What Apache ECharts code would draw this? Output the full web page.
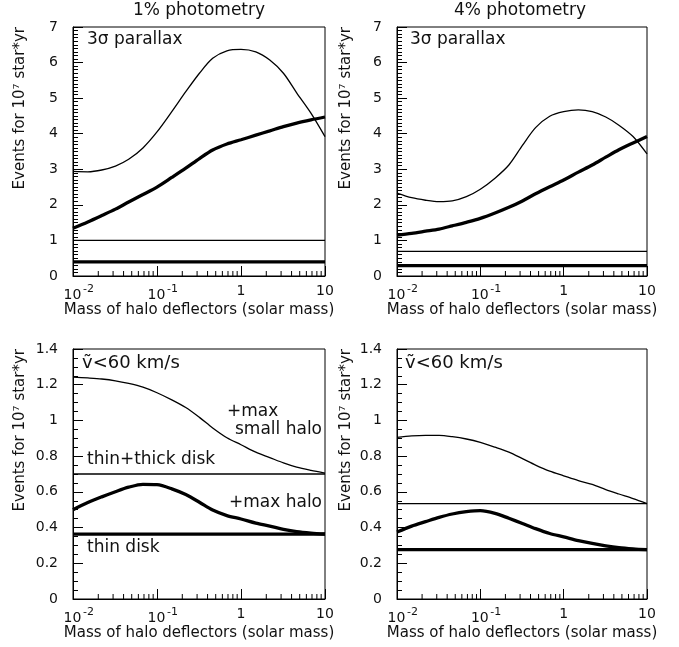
<!DOCTYPE html>
<html>
<head>
<meta charset="utf-8">
<script src="https://cdn.jsdelivr.net/npm/echarts@6/dist/echarts.min.js"></script>
<style>
  html, body { margin: 0; padding: 0; background: #fff; }
  #chart { width: 679px; height: 647px; }
</style>
</head>
<body>
<div id="chart"></div>
<script>
// mass of halo deflectors (solar mass), ~1/6 decade steps, shared by every curve
const masses = [0.01, 0.015, 0.022, 0.032, 0.046, 0.068, 0.1, 0.15, 0.22, 0.32, 0.46, 0.68, 1, 1.5, 2.2, 3.2, 4.6, 6.8, 10];

// top row: 3 sigma parallax
const p1Thin  = [2.94, 2.93, 2.98, 3.09, 3.28, 3.60, 4.05, 4.62, 5.18, 5.70, 6.12, 6.33, 6.37, 6.30, 6.07, 5.70, 5.15, 4.58, 3.92];
const p1Thick = [1.34, 1.52, 1.70, 1.88, 2.08, 2.29, 2.50, 2.77, 3.03, 3.30, 3.54, 3.71, 3.83, 3.96, 4.08, 4.20, 4.30, 4.39, 4.47];
const p2Thin  = [2.33, 2.20, 2.13, 2.09, 2.11, 2.23, 2.44, 2.75, 3.12, 3.67, 4.17, 4.49, 4.62, 4.67, 4.62, 4.47, 4.24, 3.92, 3.43];
const p2Thick = [1.15, 1.20, 1.26, 1.32, 1.41, 1.51, 1.62, 1.77, 1.93, 2.11, 2.31, 2.51, 2.70, 2.92, 3.12, 3.34, 3.55, 3.74, 3.92];

// bottom row: v < 60 km/s
const p3Thin  = [1.243, 1.238, 1.232, 1.222, 1.207, 1.186, 1.155, 1.115, 1.072, 1.017, 0.958, 0.903, 0.864, 0.822, 0.792, 0.762, 0.738, 0.720, 0.705];
const p3Thick = [0.500, 0.540, 0.572, 0.601, 0.626, 0.642, 0.640, 0.617, 0.585, 0.542, 0.498, 0.467, 0.448, 0.425, 0.408, 0.390, 0.377, 0.369, 0.364];
const p4Thin  = [0.905, 0.913, 0.916, 0.916, 0.909, 0.896, 0.877, 0.850, 0.822, 0.786, 0.750, 0.716, 0.690, 0.663, 0.642, 0.613, 0.588, 0.562, 0.534];
const p4Thick = [0.375, 0.408, 0.433, 0.457, 0.476, 0.489, 0.495, 0.480, 0.452, 0.423, 0.394, 0.367, 0.348, 0.327, 0.311, 0.298, 0.288, 0.281, 0.276];

// flat disk-only levels [thin line, thick line] per panel
const diskLevels = [[1.0, 0.395], [0.69, 0.29], [0.70, 0.363], [0.534, 0.276]];

const titles = ['1% photometry', '4% photometry'];
const xName = 'Mass of halo deflectors (solar mass)';
const yName = 'Events for 10\u2077 star*yr';

// log minor tick positions (2..9 in each decade)
const minorMass = [];
[0.01, 0.1, 1].forEach(d => { for (let k = 2; k <= 9; k++) minorMass.push(+(d * k).toPrecision(3)); });

const FONT = 'DejaVu Sans';
const chart = echarts.init(document.getElementById('chart'));

const grids = [
  { left: 73, top: 27, width: 252, height: 249 },
  { left: 397, top: 27, width: 250, height: 249 },
  { left: 73, top: 349, width: 252, height: 250 },
  { left: 397, top: 349, width: 250, height: 250 }
].map(g => Object.assign({ show: true, borderColor: '#000', borderWidth: 1, backgroundColor: 'transparent' }, g));

const xAxes = grids.map((g, i) => ({
  type: 'log',
  logBase: 10,
  gridIndex: i,
  min: 0.01,
  max: 10,
  name: xName,
  nameLocation: 'middle',
  nameGap: 27,
  nameTextStyle: { fontFamily: FONT, fontSize: 15, color: '#111' },
  axisLine: { show: true, lineStyle: { color: '#000', width: 1 } },
  axisTick: { show: true, inside: true, length: 10, lineStyle: { color: '#000' } },
  splitLine: { show: false },
  axisLabel: {
    margin: 8,
    fontFamily: FONT,
    color: '#111',
    formatter: v => {
      const p = Math.round(Math.log10(v));
      if (p >= 0) return '{b|' + Math.round(v) + '}';
      return '{p|}{b|10}{e|-' + (-p) + '}';
    },
    rich: {
      b: { fontFamily: FONT, fontSize: 14, color: '#111' },
      p: { width: 12 },
      e: { fontFamily: FONT, fontSize: 11, color: '#111', width: 12, padding: [0, 0, 11, 1] }
    }
  }
}));

const yAxes = grids.map((g, i) => {
  const top = i < 2;
  return {
    type: 'value',
    gridIndex: i,
    min: 0,
    max: top ? 7 : 1.4,
    interval: top ? 1 : 0.2,
    axisLine: { show: true, lineStyle: { color: '#000', width: 1 } },
    axisTick: { show: true, inside: true, length: 10, lineStyle: { color: '#000' } },
    minorTick: { show: true, splitNumber: top ? 10 : 4, length: 5, lineStyle: { color: '#000' } },
    splitLine: { show: false },
    axisLabel: { margin: 15, fontFamily: FONT, fontSize: 14, color: '#111' }
  };
});

const curves = [[p1Thin, p1Thick], [p2Thin, p2Thick], [p3Thin, p3Thick], [p4Thin, p4Thick]];
const series = [];
curves.forEach((pair, i) => {
  pair.forEach((vals, j) => {
    series.push({
      type: 'line',
      xAxisIndex: i,
      yAxisIndex: i,
      data: masses.map((m, k) => [m, vals[k]]),
      smooth: 0.3,
      showSymbol: false,
      silent: true,
      lineStyle: { color: '#000', width: j ? 3.3 : 1.3 }
    });
  });
  diskLevels[i].forEach((lvl, j) => {
    series.push({
      type: 'line',
      xAxisIndex: i,
      yAxisIndex: i,
      data: [[masses[0], lvl], [masses[masses.length - 1], lvl]],
      showSymbol: false,
      silent: true,
      lineStyle: { color: '#000', width: j ? 3.2 : 1.3 }
    });
  });
  // log minor ticks on the mass axis
  series.push({
    type: 'custom',
    xAxisIndex: i,
    yAxisIndex: i,
    silent: true,
    z: 5,
    data: minorMass.map(m => [m, 0]),
    renderItem: (params, api) => {
      const p = api.coord([api.value(0), api.value(1)]);
      return {
        type: 'line',
        shape: { x1: p[0], y1: p[1], x2: p[0], y2: p[1] - 5 },
        style: { stroke: '#000', lineWidth: 1 }
      };
    }
  });
});

const txt = (x, y, text, extra) => ({
  type: 'text', x, y, silent: true,
  style: Object.assign({ text, fontFamily: FONT, fontSize: 17, fill: '#111', textAlign: 'left', textVerticalAlign: 'middle' }, extra || {})
});

const graphic = [
  txt(199, 11, titles[0], { textAlign: 'center' }),
  txt(520, 11, titles[1], { textAlign: 'center' }),
  txt(20, 27, yName, { fontSize: 15, textAlign: 'right' }),
  txt(346, 27, yName, { fontSize: 15, textAlign: 'right' }),
  txt(20, 349, yName, { fontSize: 15, textAlign: 'right' }),
  txt(346, 349, yName, { fontSize: 15, textAlign: 'right' }),
  txt(87, 40, '3\u03c3 parallax'),
  txt(410, 40, '3\u03c3 parallax'),
  txt(82, 363, '\u1e7d<60 km/s', { fontSize: 18 }),
  txt(405, 363, '\u1e7d<60 km/s', { fontSize: 18 }),
  txt(227, 412, '+max'),
  txt(322, 430, 'small halo', { textAlign: 'right' }),
  txt(87, 460, 'thin+thick disk'),
  txt(322, 503, '+max halo', { textAlign: 'right' }),
  txt(87, 548, 'thin disk')
];
// rotate the y titles
[2, 3, 4, 5].forEach(k => { graphic[k].rotation = Math.PI / 2; });

chart.setOption({
  animation: false,
  backgroundColor: '#fff',
  grid: grids,
  xAxis: xAxes,
  yAxis: yAxes,
  series,
  graphic
});
</script>
</body>
</html>
